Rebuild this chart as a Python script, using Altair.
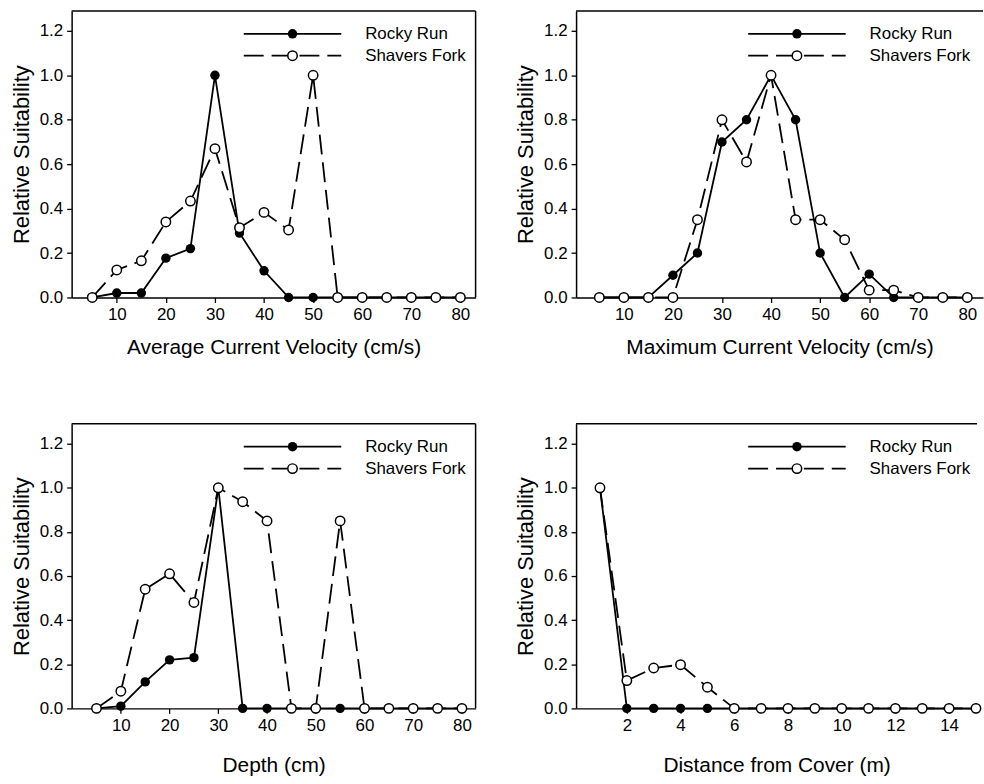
import altair as alt
import pandas as pd

# ---------------- data ----------------
vel_x = [5, 10, 15, 20, 25, 30, 35, 40, 45, 50, 55, 60, 65, 70, 75, 80]
avg_rocky = [0, 0.02, 0.02, 0.177, 0.22, 1.0, 0.29, 0.12, 0, 0, 0, 0, 0, 0, 0, 0]
avg_shavers = [0, 0.124, 0.165, 0.34, 0.434, 0.67, 0.314, 0.383, 0.304, 1.0, 0, 0, 0, 0, 0, 0]

max_rocky = [0, 0, 0, 0.10, 0.20, 0.70, 0.80, 1.0, 0.80, 0.20, 0, 0.105, 0, 0, 0, 0]
max_shavers = [0, 0, 0, 0, 0.35, 0.80, 0.61, 1.0, 0.35, 0.35, 0.26, 0.033, 0.033, 0, 0, 0]

depth_x = [5, 10, 15, 20, 25, 30, 35, 40, 45, 50, 55, 60, 65, 70, 75, 80]
depth_rocky = [0, 0.01, 0.12, 0.22, 0.23, 1.0, 0, 0, 0, 0, 0, 0, 0, 0, 0, 0]
depth_shavers = [0, 0.078, 0.54, 0.61, 0.48, 1.0, 0.937, 0.85, 0, 0, 0.85, 0, 0, 0, 0, 0]

cover_x = [1, 2, 3, 4, 5, 6, 7, 8, 9, 10, 11, 12, 13, 14, 15]
cover_rocky = [1.0, 0, 0, 0, 0, 0, 0, 0, 0, 0, 0, 0, 0, 0, 0]
cover_shavers = [1.0, 0.126, 0.183, 0.198, 0.096, 0, 0, 0, 0, 0, 0, 0, 0, 0, 0]

series_names = ["Rocky Run", "Shavers Fork"]
y_ticks = [0.0, 0.2, 0.4, 0.6, 0.8, 1.0, 1.2]
vel_ticks = [10, 20, 30, 40, 50, 60, 70, 80]
cover_ticks = [2, 4, 6, 8, 10, 12, 14]

FONT = "Liberation Sans"
DASH = [20, 8]
LW = 1.8
PSIZE = 90


def panel(xs, rocky, shavers, xdomain, xticks, xtitle, width, height, right_border, tpad):
    df_r = pd.DataFrame({"x": xs, "y": rocky})
    df_s = pd.DataFrame({"x": xs, "y": shavers})
    xenc = alt.X("x:Q", scale=alt.Scale(domain=xdomain, nice=False, zero=False),
                 axis=alt.Axis(values=xticks, title=xtitle, format="d", titlePadding=tpad))
    yenc = alt.Y("y:Q", scale=alt.Scale(domain=[0, 1.29], nice=False, zero=False),
                 axis=alt.Axis(values=y_ticks, title="Relative Suitability", format=".1f"))

    r_line = alt.Chart(df_r).mark_line(color="black", strokeWidth=LW).encode(x=xenc, y=yenc)
    s_line = alt.Chart(df_s).mark_line(color="black", strokeWidth=LW, strokeDash=DASH).encode(x=xenc, y=yenc)
    r_pts = alt.Chart(df_r).mark_point(shape="circle", filled=True, fill="black", color="black",
                                       size=PSIZE, opacity=1, strokeWidth=1.5).encode(x=xenc, y=yenc)
    s_pts = alt.Chart(df_s).mark_point(shape="circle", filled=True, fill="white", stroke="black",
                                       size=PSIZE, opacity=1, strokeWidth=1.5).encode(x=xenc, y=yenc)

    base = alt.Chart(pd.DataFrame({"k": [0]}))
    lx1, lx2, lm, lt = 173, 271, 222, 295
    r1, r2 = 23, 45
    leg = [
        base.mark_rule(color="black", strokeWidth=LW).encode(
            x=alt.value(lx1), x2=alt.value(lx2), y=alt.value(r1)),
        base.mark_rule(color="black", strokeWidth=LW, strokeDash=DASH).encode(
            x=alt.value(lx1), x2=alt.value(lx2), y=alt.value(r2)),
        base.mark_point(shape="circle", filled=True, fill="black", color="black", size=PSIZE,
                        opacity=1).encode(x=alt.value(lm), y=alt.value(r1)),
        base.mark_point(shape="circle", filled=True, fill="white", stroke="black", size=PSIZE,
                        opacity=1, strokeWidth=1.5).encode(x=alt.value(lm), y=alt.value(r2)),
        base.mark_text(text=series_names[0], align="left", baseline="middle", font=FONT,
                       fontSize=17, color="black").encode(x=alt.value(lt), y=alt.value(r1)),
        base.mark_text(text=series_names[1], align="left", baseline="middle", font=FONT,
                       fontSize=17, color="black").encode(x=alt.value(lt), y=alt.value(r2)),
    ]
    borders = [base.mark_rule(color="black", strokeWidth=1.5).encode(
        x=alt.value(0), x2=alt.value(width), y=alt.value(0))]
    if right_border:
        borders.append(base.mark_rule(color="black", strokeWidth=1.5).encode(
            x=alt.value(width), y=alt.value(0), y2=alt.value(height)))

    return alt.layer(*borders, r_line, s_line, r_pts, s_pts, *leg).properties(
        width=width, height=height)


p1 = panel(vel_x, avg_rocky, avg_shavers, [0.8, 83.1], vel_ticks,
           "Average Current Velocity (cm/s)", 406, 288, True, 14)
p2 = panel(vel_x, max_rocky, max_shavers, [0.26, 83.2], vel_ticks,
           "Maximum Current Velocity (cm/s)", 409, 288, False, 14)
p3 = panel(depth_x, depth_rocky, depth_shavers, [-0.1, 82.8], vel_ticks,
           "Depth (cm)", 406, 286, True, 21)
p4 = panel(cover_x, cover_rocky, cover_shavers, [0.11, 15.04], cover_ticks,
           "Distance from Cover (m)", 403, 286, False, 21)

chart = alt.vconcat(
    alt.hconcat(p1, p2, spacing=38),
    alt.hconcat(p3, p4, spacing=38),
    spacing=66,
).properties(
    padding={"left": 10, "top": 8, "right": 0, "bottom": 0},
    background="white",
).configure_view(stroke=None).configure_axis(
    grid=False,
    domainColor="black",
    domainWidth=1.5,
    tickColor="black",
    tickSize=5,
    tickWidth=1.3,
    labelFont=FONT,
    labelFontSize=17,
    labelColor="black",
    labelPadding=4,
    titleFont=FONT,
    titleFontWeight="normal",
    titleColor="black",
).configure_axisX(titleFontSize=21).configure_axisY(titlePadding=6, titleFontSize=22)

chart.save("out.html", embed_options={"renderer": "svg", "actions": False})
